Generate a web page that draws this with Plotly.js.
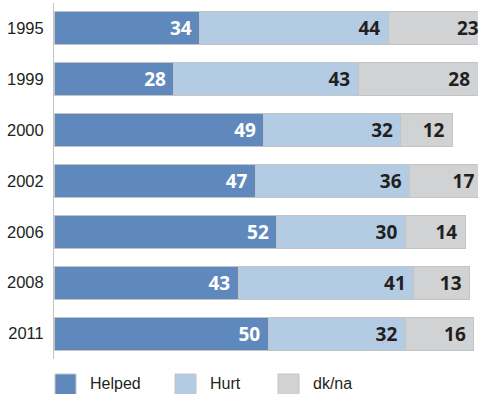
<!DOCTYPE html>
<html><head><meta charset="utf-8">
<script src="https://cdn.plot.ly/plotly-3.0.1.min.js"></script>
<style>html,body{margin:0;padding:0;background:#fff;}</style>
</head><body>
<div id="chart" style="width:478px;height:394px;"></div>
<script>
const years = ['1995','1999','2000','2002','2006','2008','2011'];
const seriesNames = ['Helped','Hurt','dk/na'];
const helped = [34,28,49,47,52,43,50];
const hurt = [44,43,32,36,30,41,32];
const dkna = [23,28,12,17,14,13,16];
const seriesValues = [helped, hurt, dkna];
const colors = ['#5f89bd','#b3cce4','#d1d2d4'];
const textColors = ['#ffffff','#231f20','#231f20'];

const W = 478, H = 394, ML = 54, MR = 0, MT = 3, MB = 35;
const pw = W - ML - MR, ph = H - MT - MB;
const labelFont = 'Liberation Sans, Arial, sans-serif';

const traces = seriesValues.map((vals, i) => ({
  type: 'bar',
  orientation: 'h',
  name: seriesNames[i],
  y: years,
  x: vals,
  marker: {color: colors[i], line: {color: '#c4c4c4', width: 1}},
  text: vals.map(v => String(v)),
  texttemplate: '%{text}\u00a0',
  textposition: 'inside',
  insidetextanchor: 'end',
  textangle: 0,
  constraintext: 'none',
  insidetextfont: {family: 'Open Sans, sans-serif', size: 19, color: textColors[i], weight: 700},
  hoverinfo: 'skip',
  cliponaxis: true
}));

// custom legend (shapes + annotations) in pixel positions converted to paper coords
const px = x => (x - ML) / pw;
const py = y => (H - MB - y) / ph;
const legendX = [55, 175, 278];
const shapes = [], annotations = [];
seriesNames.forEach((n, i) => {
  shapes.push({type: 'rect', xref: 'paper', yref: 'paper',
    x0: px(legendX[i]), x1: px(legendX[i] + 21), y0: py(374), y1: py(395),
    fillcolor: colors[i], line: {color: '#c4c4c4', width: 1}});
  annotations.push({xref: 'paper', yref: 'paper', x: px(legendX[i] + 33), y: py(383),
    xanchor: 'left', yanchor: 'middle', text: n, showarrow: false,
    font: {family: labelFont, size: 16, color: '#231f20'}});
});

const layout = {
  width: W, height: H,
  margin: {l: ML, r: MR, t: MT, b: MB, pad: 0},
  barmode: 'stack',
  bargap: 0.35,
  showlegend: false,
  paper_bgcolor: '#fff', plot_bgcolor: '#fff',
  xaxis: {range: [0, 99], showgrid: false, zeroline: false, showline: false, showticklabels: false, ticks: '', fixedrange: true},
  yaxis: {type: 'category', autorange: 'reversed', showgrid: false, zeroline: false,
    showline: true, linecolor: '#c4c4c4', linewidth: 1,
    ticks: 'outside', ticklen: 6, tickcolor: 'rgba(0,0,0,0)',
    tickfont: {family: labelFont, size: 16.5, color: '#231f20'}},
  shapes: shapes,
  annotations: annotations,
  uniformtext: {mode: false}
};

Plotly.newPlot('chart', traces, layout, {displayModeBar: false, staticPlot: true});
</script>
</body></html>
